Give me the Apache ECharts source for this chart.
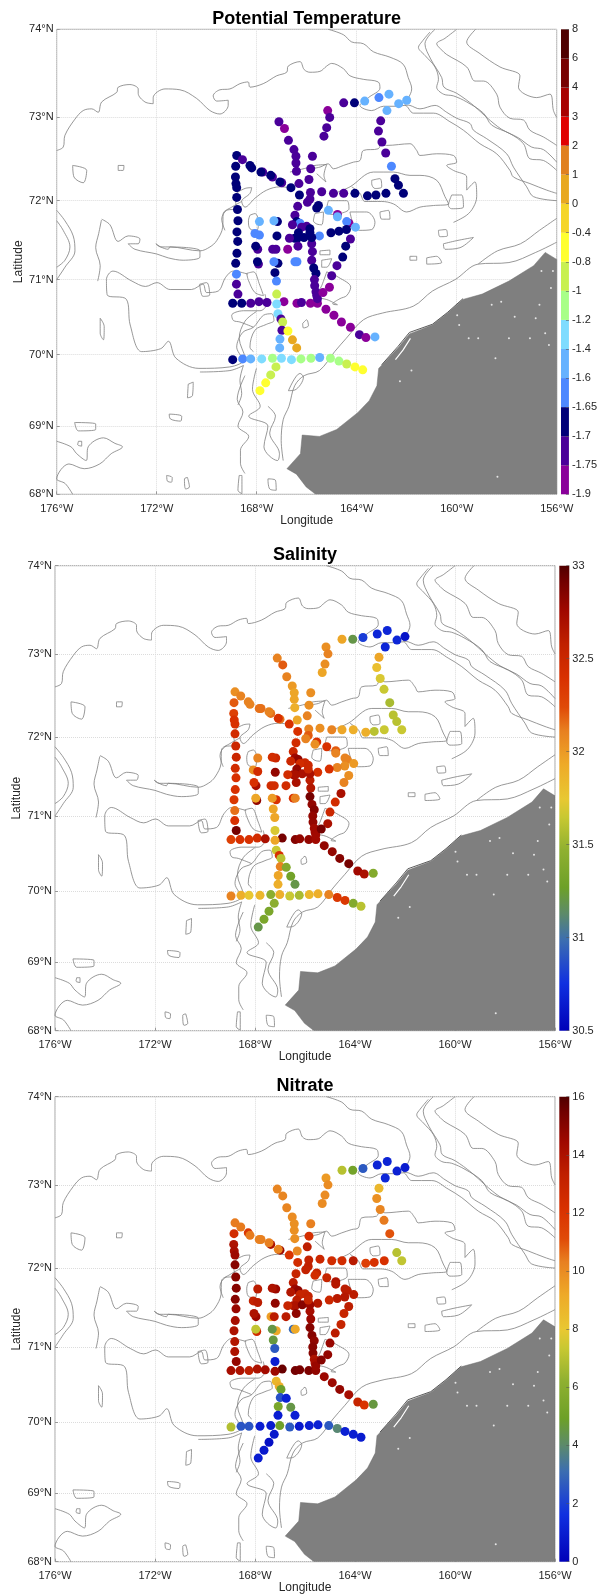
<!DOCTYPE html>
<html><head><meta charset="utf-8">
<style>html,body{margin:0;padding:0;background:#fff}#c{width:600px;height:1595px}</style>
<script src="https://cdn.jsdelivr.net/npm/echarts@6/dist/echarts.min.js"></script>
</head><body><div id="c"></div>
<script>
// ---- station data (lon, lat, three measured fields) ----
const stationLon=[
-164.52,-164.09,-163.68,-163.11,-162.71,-162.79,-162.32,-162.00,
-163.04,-163.13,-162.99,-162.84,-162.61,-162.47,-162.33,-162.13,
-162.83,-163.23,-163.57,-164.07,-164.52,-164.93,-165.40,-165.85,-166.29,-165.87,-165.97,
-167.11,-166.89,-166.73,-166.51,-166.43,-166.43,-166.41,-165.77,-165.84,-165.91,-166.31,
-165.16,-165.08,-165.20,-165.31,
-168.80,-168.57,-168.27,-168.20,-167.76,-167.83,-167.37,-167.44,-167.00,-167.07,-166.63,
-168.84,-168.85,-168.83,-168.80,-168.80,-168.77,-168.75,-168.79,-168.76,-168.79,-168.84,-168.81,-168.81,-168.75,
-168.96,-168.60,-168.24,-167.91,-167.59,-166.91,-166.39,-166.21,-165.85,-165.57,
-165.23,-164.91,-164.61,-164.25,-163.89,-163.63,-163.27,
-165.80,-165.77,-165.80,-165.72,-165.63,-165.69,-165.68,-165.63,-165.60,-165.57,
-164.25,-164.44,-164.56,-164.79,-165.00,-165.09,-165.35,
-164.77,-165.13,-164.77,-164.31,-164.40,-164.05,-164.41,-164.71,-165.03,-165.49,-165.53,-165.60,
-166.36,-166.47,-166.40,-166.27,-166.57,
-166.00,-166.20,-166.33,-166.48,-166.38,-166.11,-165.87,-165.80,-165.87,-166.69,-166.35,-166.76,
-167.89,-167.17,-167.31,-168.07,-167.89,-167.19,-167.96,-168.04,-167.36,-167.23,-167.93,-167.97,-167.15,-167.31,-166.47,-166.39,-167.27,-167.21,
-167.20,-167.20,-167.15,-167.03,-166.96,-166.99,-166.75,-167.07,-166.57,-167.08,-166.40,
-168.96,-168.56,-168.24,-167.80,-167.37,-167.01,-166.61,-166.23,-165.83,-165.48,-165.05,-164.71,-164.40,-164.07,-163.76,
-167.23,-167.44,-167.64,-167.87];
const stationLat=[
73.17,73.17,73.19,73.23,73.27,73.08,73.16,73.20,
72.96,72.84,72.71,72.58,72.42,72.27,72.19,72.09,
72.09,72.07,72.06,72.09,72.09,72.09,72.11,72.10,72.07,72.02,71.98,
72.95,72.87,72.73,72.62,72.54,72.46,72.36,72.54,72.39,72.26,72.21,
73.08,73.00,72.88,72.78,
72.55,72.50,72.43,72.40,72.35,72.35,72.29,72.31,72.22,72.23,72.16,
72.42,72.29,72.21,72.16,72.04,71.89,71.75,71.61,71.49,71.34,71.21,71.07,70.94,70.81,
70.69,70.69,70.69,70.71,70.70,70.71,70.69,70.70,70.69,70.69,
70.61,70.53,70.44,70.37,70.27,70.23,70.24,
71.46,71.36,71.25,71.15,71.08,71.00,70.92,70.84,70.79,70.75,
71.52,71.43,71.29,71.18,71.05,70.90,70.83,
71.83,71.88,71.80,71.72,71.74,71.67,71.64,71.62,71.60,71.56,71.94,71.91,
71.93,71.82,71.74,71.72,71.70,
71.68,71.67,71.60,71.53,71.53,71.54,71.65,71.54,71.60,71.53,71.43,71.39,
71.74,71.74,71.75,71.59,71.57,71.56,71.39,71.43,71.39,71.39,71.20,71.23,71.21,71.23,71.23,71.23,71.09,70.98,
70.81,70.68,70.55,70.48,70.44,70.33,70.32,70.21,70.20,70.09,70.09,
69.93,69.94,69.94,69.94,69.95,69.95,69.93,69.94,69.95,69.96,69.95,69.91,69.87,69.83,69.79,
69.83,69.72,69.61,69.50];
const potentialTemperature=[
-1.72,-1.68,-1.5,-1.62,-1.5,-1.5,-1.5,-1.5,
-1.72,-1.72,-1.72,-1.72,-1.62,-1.68,-1.68,-1.68,
-1.68,-1.68,-1.68,-1.68,-1.72,-1.72,-1.72,-1.72,-1.68,-1.72,-1.72,
-1.72,-1.8,-1.72,-1.72,-1.72,-1.72,-1.72,-1.72,-1.72,-1.72,-1.72,
-1.8,-1.72,-1.72,-1.72,
-1.68,-1.72,-1.68,-1.68,-1.72,-1.68,-1.72,-1.68,-1.72,-1.68,-1.68,
-1.68,-1.68,-1.68,-1.68,-1.68,-1.68,-1.68,-1.68,-1.68,-1.68,-1.68,-1.62,-1.72,-1.72,
-1.68,-1.68,-1.72,-1.72,-1.72,-1.8,-1.8,-1.72,-1.8,-1.8,
-1.8,-1.8,-1.8,-1.8,-1.72,-1.8,-1.5,
-1.72,-1.72,-1.72,-1.68,-1.68,-1.72,-1.72,-1.72,-1.72,-1.72,
-1.72,-1.68,-1.68,-1.72,-1.72,-1.8,-1.8,
-1.8,-1.5,-1.5,-1.8,-1.62,-1.5,-1.68,-1.68,-1.68,-1.62,-1.68,-1.68,
-1.72,-1.72,-1.68,-1.62,-1.72,
-1.72,-1.72,-1.68,-1.68,-1.68,-1.68,-1.68,-1.68,-1.68,-1.72,-1.72,-1.8,
-1.5,-1.68,-1.5,-1.62,-1.62,-1.68,-1.72,-1.68,-1.72,-1.72,-1.72,-1.68,-1.68,-1.62,-1.62,-1.62,-1.68,-1.62,
-0.9,-1.3,-1.3,-1.72,-0.9,-1.72,-0.6,-1.5,0.5,-1.5,0.5,
-1.68,-1.62,-1.5,-1.3,-1.1,-1.3,-1.3,-1.1,-1.1,-1.5,-1.1,-1.1,-0.9,-0.6,-0.6,
-0.9,-0.9,-0.7,-0.6];
const salinity=[
31.95,31.2,30.8,30.7,30.7,30.7,30.7,30.6,
31.95,31.8,31.7,31.65,31.55,31.6,31.6,31.65,
31.65,31.6,31.9,31.9,31.95,32.1,32.05,32.1,32.4,32.2,32.1,
32.1,32.2,32.1,32,31.95,31.95,31.9,32.05,32.05,32.1,31.95,
32.05,32.1,32.05,31.95,
32.05,32.1,32.1,32.1,32.15,32.15,32.15,32.1,32.15,32.4,32.4,
32.2,32.3,32.4,32.4,32.45,32.5,32.5,32.45,32.4,32.4,32.35,32.15,32.4,32.9,
32.3,32.4,32.4,32.45,32.7,32.9,32.85,32.8,32.8,32.75,
32.8,32.8,32.85,32.9,32.75,32.7,31.4,
32.6,32.65,32.9,32.8,32.85,32.8,32.8,32.75,32.75,32.75,
32.05,32.1,32.7,32.45,32.5,32.7,32.9,
32.2,32.4,32.1,32.1,32.1,32,32.05,32.1,32.4,32.4,32.4,32.05,
32.45,32.5,32.75,32.8,32.5,
32.5,32.45,32.8,32.75,32.7,32.7,32.5,32.7,32.5,32.45,32.7,32.45,
32.1,32.5,32.45,32.05,32.45,32.8,32.7,32.4,32.45,32.45,32.8,31.95,32.4,32,32.4,32.1,31.95,31.95,
31.7,31.95,31.65,32.4,31.6,32.1,31.4,31.95,31.3,31.9,31.2,
32.1,31.9,31.75,31.85,31.45,31.9,31.65,31.55,31.85,31.9,32.1,32.35,32.35,31.4,31.6,
31.45,31.35,31.35,31.2];
const nitrate=[
7,5.2,2.6,1.2,1.2,1.3,1.1,0.9,
8.6,9.9,10.2,10.4,11,null,7,7.2,
12.2,12.2,11.6,13.6,12.5,12.5,12.8,13.2,12.5,13.3,13.2,
10.2,10.2,10.2,10,9.9,9.9,9.9,10.3,12.3,13.4,10.1,
9.6,10,10,10,
10.4,10.4,11.9,10.4,10.3,10.3,14,10.3,14.5,10.2,12,
12.5,14,14.2,14.5,15,15,15,15,14.6,14.2,14,13.8,14,14.7,
14.2,14,13.4,14,14.3,15.6,15.4,15.3,15.2,14.8,
14.5,14.5,14.7,14.2,13,12,4.6,
14.2,14.5,15,15,14.8,15,15,14,14.2,14.6,
13.4,13,13,13.5,14.6,14.7,15,
14,13,13.7,13.5,13.5,13.5,13.7,13.6,12.8,13.7,13,12.5,
13,13.5,14.5,14.8,13.8,
13,13,13.5,14,14,15,13.2,14.5,13,13,14.8,13.5,
13.5,14.5,14,13.2,13.5,14.8,14.5,14,9.5,13.5,12.5,7.2,9.2,4.5,3,9.2,4.6,2.6,
1,14.5,8.7,9,4.9,2.4,1.1,5.4,4.5,1,1.1,
6.9,2.5,2.5,1,0.9,5,2.6,0.8,1,1.1,2.6,3.9,1.1,1,0.9,
0.8,0.5,0.8,1];

// ---- colour scales and colourbar tick labels ----
const tempTicks=[-1.9,-1.75,-1.7,-1.65,-1.6,-1.4,-1.2,-1,-0.8,-0.4,0,1,2,3,4,6,8];
const tempColors=['#8a009a','#4a0099','#000078','#4d88ff','#66b2ff','#7fdcff','#a8ff88','#c8f050','#ffff30','#f5d528','#e8a820','#e08020','#e00000','#a80000','#780000','#500000'];
const stopFractions=[0,.102,.195,.251,.308,.388,.459,.498,.573,.645,.695,.76,.832,.903,.968,1];
const stopColors=['#0000b8','#1030e0','#3c6eb0','#5c8a6a','#6da028','#8fb030','#c8c832','#e8c832','#eeaa28','#e88020','#e04a08','#d83000','#c02000','#a00800','#700000','#500000'];

// ---- axis ticks ----
const lonTicks=[-176,-172,-168,-164,-160,-156];
const latTicks=[68,69,70,71,72,73,74];

// ---- bathymetric contours, [lon,lat] pairs ----
const contourNorth=[[-176,72.61],[-175.74,72.65],[-175.67,72.79],[-175.27,72.98],[-174.94,73.08],[-174.6,73.1],[-174.34,73.06],[-174.2,73.18],[-173.6,73.29],[-173.54,73.35],[-173.07,73.38],[-172.74,73.33],[-172.74,73.28],[-172.47,73.18],[-172.14,73.16],[-172.14,73.23],[-171.67,73.33],[-171.07,73.32],[-170.4,73.22],[-169.87,73.08],[-169.47,73.04],[-169.14,73.14],[-169.14,73.2],[-169.6,73.19],[-169.74,73.25],[-169.47,73.32],[-169.07,73.33],[-168.67,73.39],[-168.34,73.41],[-168.27,73.35],[-167.74,73.39],[-167.2,73.48],[-166.8,73.52],[-166.74,73.59],[-166.27,73.64],[-166.1,73.55],[-165.87,73.52],[-165.47,73.53],[-165.2,73.59],[-165,73.62],[-164.53,73.56],[-164.27,73.48],[-163.74,73.44],[-163.14,73.41],[-163.07,73.34],[-163.53,73.23],[-163.87,73.14],[-163.4,73.08],[-162.93,73.13],[-162.47,73.13],[-162.07,73.14],[-161.73,73.05],[-160.93,73.05],[-160.27,72.95],[-159.73,72.85],[-159.07,72.69],[-158.4,72.57],[-157.87,72.37],[-157.73,72.29],[-157.07,72.21],[-156.4,72.13],[-156,72.09]];
const contourShelfBreak=[[-165.14,74],[-164.53,73.94],[-164.2,73.86],[-163.73,73.84],[-163.33,73.75],[-162.67,73.69],[-162.14,73.61],[-161.94,73.46],[-161.8,73.33],[-161.94,73.22],[-162.07,73.15],[-161.87,73.14],[-161.47,73.1],[-160.87,73.14],[-160.4,73.06],[-160,72.99],[-159.47,72.93],[-159.33,72.85],[-158.8,72.75],[-158,72.57],[-157.73,72.41],[-157.2,72.17],[-156.93,72.05],[-156,72]];
const contourDeep1=[[-161.07,73.97],[-161.4,73.86],[-161.53,73.8],[-161.27,73.71],[-160.87,73.58],[-160.73,73.44],[-160.8,73.35],[-160.53,73.27],[-160.13,73.25],[-159.6,73.18],[-158.93,73.05],[-158.6,72.91],[-157.87,72.81],[-157.33,72.69],[-157.07,72.51],[-156.53,72.49],[-156,72.37]];
const contourDeep2=[[-160.87,74],[-161.27,73.84],[-161.04,73.67],[-160.6,73.46],[-160.51,73.35],[-160,73.28],[-159.33,73.14],[-158.8,73],[-158.2,72.86],[-157.53,72.76],[-157,72.65],[-156.53,72.62],[-156,72.47]];
const contourDeep3=[[-160,74],[-160.47,73.9],[-160.8,73.84],[-160.6,73.77],[-160.4,73.72],[-159.6,73.58],[-159.27,73.42],[-158.93,73.42],[-158.4,73.27],[-158.27,73.12],[-157.87,72.99],[-157.33,72.97],[-157.07,72.85],[-156.53,72.77],[-156,72.67]];
const contourDeep4=[[-159.24,74],[-159.6,73.86],[-159.07,73.73],[-158.27,73.58],[-157.47,73.48],[-157.53,73.35],[-156.8,73.23],[-156.27,73.27],[-156.13,73.08],[-156,73]];
const contourHanna=[[-165.87,72.39],[-165.47,72.41],[-165.14,72.45],[-164.93,72.39],[-164.53,72.43],[-164.13,72.47],[-163.87,72.49],[-163.73,72.61],[-163.14,72.63],[-163,72.69],[-162.8,72.67],[-161.87,72.69],[-161.6,72.61],[-161.47,72.55],[-160.8,72.57],[-160.13,72.55],[-160,72.47],[-160.4,72.43],[-160.13,72.37],[-159.6,72.29],[-159.6,72.13],[-159.27,72.23],[-159.2,72.05],[-159.33,71.92],[-159.6,71.82],[-160.13,71.73]];
const contourHannaInner=[[-164.8,72.1],[-164.27,72.17],[-163.33,72.35],[-162.53,72.35],[-161.87,72.31],[-161.47,72.31],[-160.8,72.25],[-160.47,72.05],[-160.33,71.96],[-160.93,71.94],[-161.47,71.92],[-162,71.86],[-162.53,71.96],[-163,71.99],[-163.67,71.99],[-163.87,72.09],[-164.2,72.17]];
const contourLens=[[-159.14,71.2],[-158.37,71.37],[-157.45,71.46],[-156.69,71.63],[-156,71.78]];
const contourCoast=[[-156,71.48],[-156.84,71.35],[-157.91,71.22],[-159.14,71.2],[-160.06,71],[-160.97,70.85],[-161.74,70.65],[-162.96,70.56],[-163.73,70.47],[-164.42,70.22],[-164.88,70.04],[-165.49,69.78],[-166.1,69.71],[-166.48,69.57],[-166.71,69.28],[-166.94,69.09],[-167.02,68.79],[-166.94,68.5]];
const contourWest1=[[-174.21,71.76],[-174.32,71.59],[-174.44,71.41],[-174.26,71.18],[-174.36,70.98]];
const contourWest2=[[-174.2,71.77],[-173.87,71.7],[-173.54,71.49],[-173.14,71.56],[-172.67,71.52],[-172.74,71.46],[-173.14,71.46],[-172.87,71.39],[-172,71.33],[-171.54,71.28],[-170.94,71.25],[-170.27,71.29],[-170.27,71.37],[-171.47,71.42],[-171.54,71.39],[-171.84,71.42],[-172.03,71.46],[-171.84,71.42],[-171.47,71.42],[-170.27,71.37],[-169.87,71.42],[-169.6,71.5],[-169.36,71.67],[-169.34,71.84],[-169,71.92],[-168.6,71.99]];
const contourWest3=[[-168.35,71.07],[-168.93,71.11],[-169.24,71.03],[-169.54,70.85],[-170,70.83],[-170.15,70.94],[-170.61,70.87],[-171.46,70.87],[-171.99,70.96],[-172.45,70.91],[-172.99,70.98],[-173.75,71.11],[-174.01,71],[-173.98,70.8],[-173.21,70.74],[-173.06,70.4],[-172.6,70.04],[-171.84,70.08],[-171.53,70.18],[-171.23,69.95],[-170.31,69.81],[-169.08,69.83],[-168.47,69.95],[-168.7,70.22],[-168.47,70.45],[-168.01,70.58]];
const contourEdgeA=[[-176,71.88],[-175.67,71.75],[-175.34,71.56],[-175.27,71.37],[-175.67,71.16],[-176,71]];
const contourEdgeB=[[-176,71.75],[-175.74,71.63],[-175.47,71.42],[-175.67,71.25],[-176,71.16]];
const contourMid1=[[-169.27,71.63],[-169.4,71.77],[-169.2,71.88],[-168.8,71.9],[-168.87,72.05],[-168.47,72.15],[-168.2,72.16],[-168.27,72.09],[-168.6,71.99],[-168.47,71.92],[-168.07,72.03],[-167.6,72.13],[-167.07,72.17],[-166.67,72.16]];
const contourMid2=[[-166.67,72.35],[-166,72.4],[-165.67,72.43],[-165.2,72.44],[-165.31,72.31],[-165.23,72.23],[-165.6,72.33]];
const contourMid3=[[-168.47,69.92],[-168.8,70.1],[-168.56,70.3],[-168.13,70.37],[-167.73,70.53],[-167.4,70.55],[-167.31,70.46],[-167.6,70.41],[-168.07,70.33],[-168.27,70.1],[-168.13,70.04]];
const contourMid4=[[-168.13,70.37],[-168.67,70.44],[-168.93,70.46],[-169,70.53],[-168.53,70.59],[-167.87,70.59],[-167.6,70.68],[-167.67,70.81]];
const contourMid5=[[-170.27,69.76],[-169.07,69.78],[-168.53,69.85],[-168.67,69.64],[-168.6,69.46],[-168.75,69.3]];
const contourSouth1=[[-168.47,69.71],[-168.78,69.38],[-168.55,69.2],[-168.75,69],[-168.32,68.85],[-168.65,68.65],[-168.65,68.46],[-168.47,68.31]];
const contourSouth2=[[-168.01,69.81],[-168.17,69.52],[-167.86,69.28],[-168.32,69.14],[-167.55,69],[-167.71,68.7],[-167.17,68.5],[-167.09,68.6],[-167.48,68.9],[-167.25,69.14],[-167.55,69.28]];
const contourBering=[[-176,68.78],[-175.43,68.7],[-175.2,68.6],[-174.82,68.5],[-174.74,68.7],[-174.13,68.83],[-173.67,68.75],[-173.37,68.7],[-173.82,68.6],[-174.28,68.45],[-174.9,68.38],[-175.51,68.45],[-176,68.23],[-175.66,68.16],[-175.36,68]];
const contourCenterEast=[[-165.2,71.1],[-164.73,71.03],[-164.24,70.9],[-164.4,70.79],[-164.67,70.75],[-164.96,70.68],[-164.77,70.67],[-165.13,70.73],[-165.6,70.79],[-165.4,70.92],[-165.2,71.1]];
// closed shoals and small islands of contour
const loopA=[[-175.36,72.43],[-174.8,72.37],[-174.94,72.22],[-175.31,72.29],[-175.36,72.43]];
const loopB=[[-173.54,72.43],[-173.31,72.43],[-173.34,72.37],[-173.54,72.37],[-173.54,72.43]];
const loopC=[[-163.4,72.25],[-163.07,72.27],[-163,72.17],[-163.27,72.15],[-163.4,72.21],[-163.4,72.25]];
const loopD=[[-163.07,71.86],[-162.73,71.88],[-162.67,71.77],[-163,71.77],[-163.07,71.86]];
const loopE=[[-160.2,72.07],[-159.8,72.07],[-159.73,71.92],[-160.2,71.9],[-160.33,71.94],[-160.2,72.07]];
const loopF=[[-170.28,70.94],[-170,70.96],[-169.88,70.8],[-170.15,70.78],[-170.28,70.94]];
const loopG=[[-175.28,69.05],[-174.44,69.03],[-174.44,68.95],[-175.13,68.93],[-175.28,69.05]];
const loopH=[[-171.5,69.17],[-171,69.14],[-171.04,69.07],[-171.45,69.1],[-171.5,69.17]];
const loopI=[[-166.73,69.5],[-166.27,69.74],[-166.13,69.69],[-166.47,69.51],[-166.73,69.5]];
const loopJ=[[-166.16,70.42],[-166,70.47],[-165.93,70.39],[-166.13,70.36],[-166.16,70.42]];
const loopK=[[-165.47,71.37],[-165.07,71.38],[-165.07,71.32],[-165.47,71.32],[-165.47,71.37]];
const loopL=[[-165.4,71.25],[-165,71.27],[-165.2,71.16],[-165.4,71.16],[-165.4,71.25]];
const loopM=[[-168.4,71.08],[-168.13,71.1],[-167.87,70.92],[-167.73,70.79],[-168.07,70.83],[-168.33,70.99],[-168.4,71.08]];
const loopN=[[-168.27,71.82],[-168.07,71.84],[-167.93,71.75],[-168,71.63],[-168.27,71.65],[-168.33,71.75],[-168.27,71.82]];
const loopO=[[-165.67,71.84],[-165.33,71.86],[-165.4,71.7],[-165.6,71.71],[-165.73,71.75],[-165.67,71.84]];
const loopP=[[-165.13,72],[-164.4,72],[-164.31,71.9],[-164.67,71.84],[-165.04,71.83],[-165.2,71.9],[-165.13,72]];
const loopQ=[[-164.27,71.86],[-163.6,71.86],[-163.27,71.73],[-163.4,71.64],[-163.87,71.63],[-164.13,71.71],[-164.27,71.86]];
const loopR=[[-161.87,71.3],[-161.6,71.3],[-161.6,71.25],[-161.87,71.25],[-161.87,71.3]];
const loopS=[[-161.2,71.28],[-160.8,71.3],[-160.6,71.22],[-161.2,71.2],[-161.2,71.28]];
const loopT=[[-160.73,71.63],[-160.43,71.64],[-160.37,71.56],[-160.67,71.55],[-160.73,71.63]];
const loopU=[[-160.53,71.46],[-160,71.5],[-159.33,71.54],[-159.87,71.41],[-160.47,71.39],[-160.53,71.46]];
const loopV=[[-168.7,68.28],[-168.59,68.28],[-168.59,68.01],[-168.75,68.06],[-168.7,68.28]];
const loopW=[[-167.55,68.23],[-167.25,68.21],[-167.22,68.06],[-167.48,68.08],[-167.55,68.23]];
const loopX=[[-170.77,68.25],[-170.69,68.11],[-170.84,68.08],[-170.89,68.23],[-170.77,68.25]];
const loopY=[[-171.6,68.28],[-171.38,68.25],[-171.41,68.18],[-171.58,68.2],[-171.6,68.28]];
const loopZ=[[-170.74,69.59],[-170.54,69.62],[-170.57,69.43],[-170.77,69.4],[-170.74,69.59]];
const loopAA=[[-175.13,68.78],[-175,68.78],[-175,68.71],[-175.16,68.73],[-175.13,68.78]];
const loopAB=[[-174.26,70.49],[-174.1,70.38],[-174.13,70.2],[-174.26,70.29],[-174.26,70.49]];
const contours=[contourNorth,contourShelfBreak,contourDeep1,contourDeep2,contourDeep3,contourDeep4,contourHanna,contourHannaInner,contourLens,contourCoast,contourWest1,contourWest2,contourWest3,contourEdgeA,contourEdgeB,contourMid1,contourMid2,contourMid3,contourMid4,contourMid5,contourSouth1,contourSouth2,contourBering,contourCenterEast,loopA,loopB,loopC,loopD,loopE,loopF,loopG,loopH,loopI,loopJ,loopK,loopL,loopM,loopN,loopO,loopP,loopQ,loopR,loopS,loopT,loopU,loopV,loopW,loopX,loopY,loopZ,loopAA,loopAB];

// ---- land ----
const landOutline=[[-156,71.26],[-156.46,71.35],[-156.92,71.18],[-157.91,70.98],[-158.98,70.81],[-159.75,70.74],[-160.36,70.56],[-160.97,70.4],[-161.89,70.28],[-162.35,70.09],[-163.12,69.81],[-163.19,69.57],[-163.5,69.36],[-163.96,69.19],[-164.8,68.95],[-165.49,68.85],[-166.18,68.87],[-166.25,68.6],[-166.79,68.38],[-166.41,68.3],[-166.02,68.11],[-165.64,68],[-156,68]];
const lagoonDark=[[-159.75,70.75],[-160.36,70.57],[-160.97,70.41],[-161.89,70.3],[-162.35,70.11],[-163,69.86]];
const lagoonWhite=[[-161.85,70.22],[-162.15,70.06],[-162.45,69.93]];
const lakeLon=[-159.52,-159.14,-158.6,-158.22,-158.45,-157.91,-157.07,-156.61,-156.15,-156.23,-156.69,-157.68,-156.84,-156.46,-156.31,-159.98,-159.9,-161.81,-162.27,-158.37];
const lakeLat=[70.22,70.22,70.67,70.71,69.95,70.22,70.22,71.11,71.11,70.89,70.67,70.51,70.49,70.29,70.13,70.53,70.4,69.78,69.63,68.26];

// ---- helpers ----
const merc=lat=>Math.log(Math.tan(Math.PI/4+lat*Math.PI/360))*180/Math.PI;
const invMerc=y=>(2*Math.atan(Math.exp(y*Math.PI/180))-Math.PI/2)*180/Math.PI;
const toXY=p=>[p[0],merc(p[1])];
const hexRgb=h=>[1,3,5].map(i=>parseInt(h.substr(i,2),16));
function stopAt(t){
  let i=0;while(i<stopFractions.length-2&&t>stopFractions[i+1])i++;
  const f=(t-stopFractions[i])/(stopFractions[i+1]-stopFractions[i]);
  const a=hexRgb(stopColors[i]),b=hexRgb(stopColors[i+1]);
  return 'rgb('+a.map((v,k)=>Math.round(v+(b[k]-v)*f)).join(',')+')';
}
const sampledRamp=Array.from({length:101},(_,i)=>stopAt(i/100));

const FONT='"Liberation Sans",Helvetica,Arial,sans-serif';
const TXT='#262626';
const panels=[
 {title:'Potential Temperature',left:56.7,top:29.3,cbLeft:561,field:potentialTemperature,kind:'step',ticks:tempTicks},
 {title:'Salinity',left:55,top:565.7,cbLeft:559.3,field:salinity,kind:'ramp',min:30.5,max:33,interval:.5},
 {title:'Nitrate',left:55,top:1096.7,cbLeft:559.3,field:nitrate,kind:'ramp',min:0,max:16,interval:2}
];
const W=500,H=465;
const opt={animation:false,backgroundColor:'#fff',title:[],grid:[],xAxis:[],yAxis:[],series:[],visualMap:[]};

panels.forEach((p,i)=>{
  const g=i*2, cb=i*2+1;
  opt.title.push({text:p.title,left:p.left+W/2-5,top:p.top-24.5,textAlign:'center',
    textStyle:{fontFamily:FONT,fontSize:18,fontWeight:'bold',color:'#000'}});
  opt.grid.push({left:p.left,top:p.top,width:W,height:H,show:true,borderColor:'#a6a6a6',borderWidth:1,containLabel:false,backgroundColor:'#fff'});
  opt.grid.push({left:p.cbLeft,top:p.top,width:10,height:H,show:false});
  opt.xAxis.push({gridIndex:g,type:'value',min:-176,max:-156,interval:4,
    name:'Longitude',nameLocation:'middle',nameGap:20,nameMoveOverlap:false,nameTextStyle:{fontFamily:FONT,fontSize:12,color:TXT},
    axisLine:{show:false},axisTick:{show:true,inside:true,length:3,lineStyle:{color:'#999'}},
    axisLabel:{fontFamily:FONT,fontSize:11,color:TXT,margin:9,formatter:v=>Math.abs(v)+'°W'},
    splitLine:{show:true,lineStyle:{color:'#dcdcdc',type:'dotted',width:1}}});
  const latVals=latTicks.map(merc);
  opt.yAxis.push({gridIndex:g,type:'value',min:merc(68),max:merc(74),
    name:'Latitude',nameLocation:'middle',nameGap:32,nameMoveOverlap:false,nameRotate:90,nameTextStyle:{fontFamily:FONT,fontSize:12,color:TXT},
    axisLine:{show:false},axisTick:{show:true,inside:true,length:3,customValues:latVals,lineStyle:{color:'#999'}},
    axisLabel:{fontFamily:FONT,fontSize:11,color:TXT,margin:3,customValues:latVals,formatter:v=>Math.round(invMerc(v))+'°N'},
    splitLine:{show:true,lineStyle:{color:'#dcdcdc',type:'dotted',width:1}}});
  // land
  opt.series.push({type:'custom',xAxisIndex:g,yAxisIndex:g,silent:true,z:2,coordinateSystem:'cartesian2d',
    data:landOutline.map(toXY),clip:true,
    renderItem:(params,api)=>{
      if(params.dataIndex!==0)return null;
      return {type:'polygon',shape:{points:landOutline.map(q=>api.coord(toXY(q)))},style:{fill:'#7f7f7f',stroke:'#6f6f6f',lineWidth:.5}};
    }});
  // lagoons & lakes
  opt.series.push({type:'line',xAxisIndex:g,yAxisIndex:g,data:lagoonDark.map(toXY),showSymbol:false,silent:true,z:3,lineStyle:{color:'#333',width:.8}});
  opt.series.push({type:'line',xAxisIndex:g,yAxisIndex:g,data:lagoonWhite.map(toXY),showSymbol:false,silent:true,z:3,lineStyle:{color:'#fff',width:1.2}});
  opt.series.push({type:'scatter',xAxisIndex:g,yAxisIndex:g,data:lakeLon.map((x,k)=>[x,merc(lakeLat[k])]),symbolSize:2,silent:true,z:3,itemStyle:{color:'#fff'}});
  // contours: one smoothed line series per contour
  contours.forEach(c=>opt.series.push({type:'line',xAxisIndex:g,yAxisIndex:g,data:c.map(toXY),showSymbol:false,silent:true,smooth:0.35,z:4,lineStyle:{color:'#7d7d7d',width:.8}}));
  // stations
  const data=[];
  stationLon.forEach((x,k)=>{if(p.field[k]!=null)data.push([x,merc(stationLat[k]),p.field[k]]);});
  const si=opt.series.length;
  opt.series.push({type:'scatter',xAxisIndex:g,yAxisIndex:g,data,symbolSize:9,z:6,silent:true,itemStyle:{opacity:1}});
  if(p.kind==='step'){
    opt.visualMap.push({show:false,type:'piecewise',seriesIndex:si,dimension:2,
      pieces:tempColors.map((c,k)=>({gte:p.ticks[k],lt:p.ticks[k+1],color:c}))});
  }else{
    opt.visualMap.push({show:false,type:'continuous',seriesIndex:si,dimension:2,min:p.min,max:p.max,inRange:{color:sampledRamp}});
  }
  // colourbar
  opt.xAxis.push({gridIndex:cb,type:'category',data:['c'],show:false});
  const cbBase={gridIndex:cb,type:'value',position:'right',z:10,
    axisLine:{show:false},splitLine:{show:false},
    axisTick:{show:true,inside:true,length:3,lineStyle:{color:'#555',width:.6}},
    axisLabel:{fontFamily:FONT,fontSize:11,color:TXT,margin:3}};
  if(p.kind==='step'){
    opt.yAxis.push(Object.assign(cbBase,{min:0,max:p.ticks.length-1,interval:1,
      axisLabel:Object.assign(cbBase.axisLabel,{formatter:v=>String(p.ticks[v])})}));
    tempColors.forEach(c=>opt.series.push({type:'bar',xAxisIndex:cb,yAxisIndex:cb,stack:'cb'+i,data:[1],barWidth:'100%',silent:true,itemStyle:{color:c}}));
  }else{
    opt.yAxis.push(Object.assign(cbBase,{min:p.min,max:p.max,interval:p.interval}));
    opt.series.push({type:'bar',xAxisIndex:cb,yAxisIndex:cb,data:[p.max],barWidth:'100%',silent:true,
      itemStyle:{color:{type:'linear',x:0,y:1,x2:0,y2:0,global:false,
        colorStops:stopFractions.map((f,k)=>({offset:f,color:stopColors[k]}))}}});
  }
});
const chart=echarts.init(document.getElementById('c'),null,{renderer:'canvas'});
chart.setOption(opt);
</script></body></html>
